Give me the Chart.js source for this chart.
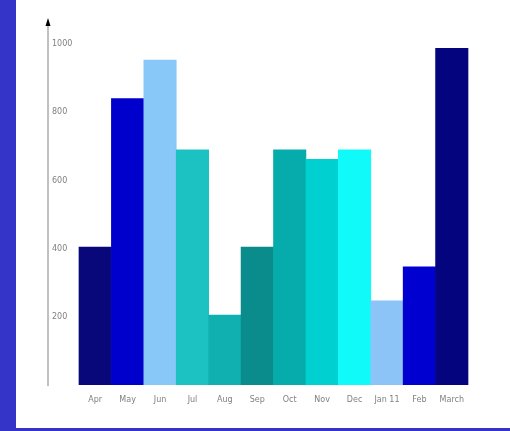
<!DOCTYPE html>
<html>
<head>
<meta charset="utf-8">
<script src="https://cdn.jsdelivr.net/npm/chart.js@4"></script>
<style>
  html, body { margin: 0; padding: 0; background: #fff; }
  #wrap { width: 494px; height: 428px; border-left: 16px solid #3434c8; border-bottom: 3px solid #3434c8; }
</style>
</head>
<body>
<div id="wrap"><canvas id="chart" width="494" height="428"></canvas></div>
<script>
const labels = ['Apr', 'May', 'Jun', 'Jul', 'Aug', 'Sep', 'Oct', 'Nov', 'Dec', 'Jan 11', 'Feb', 'March'];
const values = [405, 840, 953, 690, 205, 405, 690, 662, 690, 247, 347, 988];
const barColors = ['#08087a', '#0000cd', '#88c8f8', '#1cc2c2', '#10b0b0', '#0a8c8c',
                   '#06abab', '#00d0d0', '#10fafa', '#8cc4f8', '#0000d0', '#04047e'];
const yTicks = [200, 400, 600, 800, 1000];

// small black arrow on top of the value axis
const axisArrow = {
  id: 'axisArrow',
  afterDraw(chart) {
    const { ctx, chartArea } = chart;
    ctx.save();
    ctx.fillStyle = '#000';
    ctx.beginPath();
    ctx.moveTo(chartArea.left, chartArea.top - 4);
    ctx.lineTo(chartArea.left - 2.5, chartArea.top + 4);
    ctx.lineTo(chartArea.left + 2.5, chartArea.top + 4);
    ctx.closePath();
    ctx.fill();
    ctx.restore();
  }
};

new Chart(document.getElementById('chart').getContext('2d'), {
  type: 'bar',
  data: {
    datasets: [{
      data: values.map((v, i) => ({ x: i, y: v })),
      backgroundColor: barColors,
      borderWidth: 0,
      barPercentage: 1,
      categoryPercentage: 1
    }]
  },
  options: {
    responsive: false,
    animation: false,
    layout: { padding: { left: 32, right: 30, top: 22, bottom: 3 } },
    plugins: { legend: { display: false }, tooltip: { enabled: false } },
    scales: {
      x: {
        type: 'linear',
        offset: false,
        min: -1.456,
        max: 11.87,
        grid: { display: false, drawTicks: false, offset: false },
        border: { display: false },
        afterFit: s => { s.height = 40; },
        ticks: {
          stepSize: 1,
          includeBounds: false,
          autoSkip: false,
          maxRotation: 0,
          padding: 10,
          color: '#808080',
          font: { family: 'DejaVu Sans', size: 8 },
          callback: v => (Number.isInteger(v) && labels[v] !== undefined) ? labels[v] : ''
        }
      },
      y: {
        min: 0,
        max: 1065,
        grid: { display: false, drawTicks: false },
        border: { display: true, color: '#c0c0c0', width: 2 },
        afterFit: s => { s.width = 0; },
        afterBuildTicks: s => { s.ticks = yTicks.map(v => ({ value: v })); },
        ticks: {
          mirror: true,
          padding: 4,
          color: '#808080',
          font: { family: 'DejaVu Sans', size: 8 },
          callback: v => String(v)
        }
      }
    }
  },
  plugins: [axisArrow]
});
</script>
</body>
</html>
